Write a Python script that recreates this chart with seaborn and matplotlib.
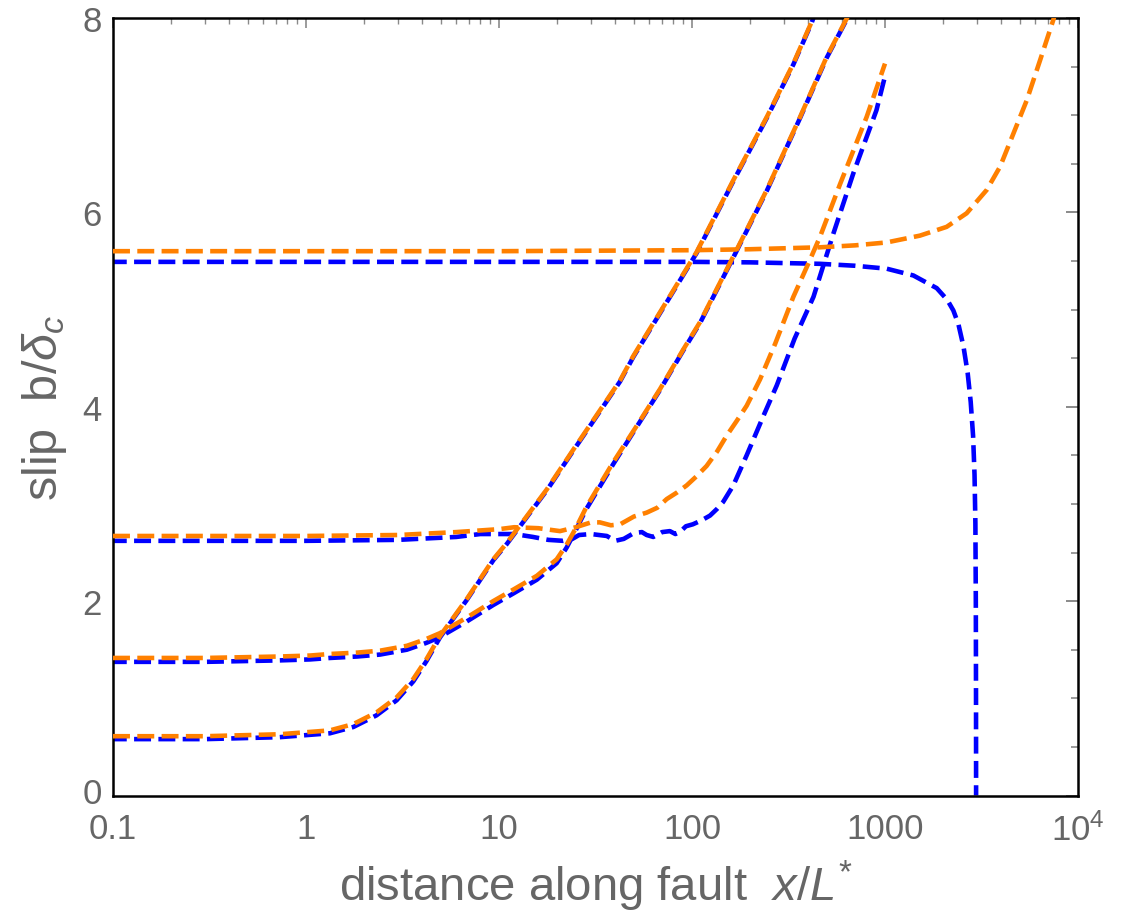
import numpy as np
import pandas as pd
import matplotlib
matplotlib.use("Agg")
import matplotlib.pyplot as plt
import matplotlib.transforms as mtransforms
import seaborn as sns
from matplotlib.ticker import FixedLocator, FixedFormatter, MultipleLocator, NullFormatter

# ---------------- data ----------------
# curve A (starts near 0.6)
a_x = [0.1, 0.3, 0.73, 1.33, 1.76, 2.32, 2.95, 3.6, 4.2, 4.94, 5.8, 6.8, 8.0, 9.34, 11.0,
       12.85, 17.7, 24.3, 32.0, 42.4, 49.6, 76.9, 105.6, 163.7, 244.0, 335.0, 417.0, 450.0]
a_orange = [0.61, 0.61, 0.63, 0.67, 0.735, 0.855, 1.01, 1.2, 1.40, 1.64, 1.83, 2.02, 2.23, 2.43, 2.60,
            2.78, 3.15, 3.56, 3.91, 4.27, 4.52, 5.14, 5.59, 6.33, 6.98, 7.53, 7.96, 8.15]
a_blue = [0.58, 0.58, 0.60, 0.64, 0.705, 0.825, 0.98, 1.175, 1.38, 1.625, 1.82, 2.01, 2.22, 2.42, 2.59,
          2.77, 3.14, 3.55, 3.90, 4.26, 4.51, 5.13, 5.58, 6.32, 6.97, 7.52, 7.95, 8.14]

# curve B (starts near 1.4)
b_x = [0.1, 0.3, 0.73, 1.05, 1.33, 1.84, 2.42, 3.33, 4.2, 4.94, 6.8, 9.34, 11.9, 15.7, 19.9,
       22.4, 25.0, 28.4, 39.1, 51.6, 68.2, 90.2, 110.0, 170.0, 244.0, 363.0, 499.0, 632.0, 680.0]
b_orange = [1.415, 1.415, 1.43, 1.44, 1.456, 1.47, 1.49, 1.54, 1.61, 1.67, 1.83, 2.0, 2.12, 2.26, 2.43,
            2.58, 2.75, 2.97, 3.43, 3.80, 4.18, 4.59, 4.87, 5.61, 6.23, 6.98, 7.6, 7.99, 8.12]
b_blue = [1.375, 1.375, 1.39, 1.40, 1.415, 1.43, 1.45, 1.50, 1.57, 1.63, 1.79, 1.96, 2.08, 2.22, 2.39,
          2.55, 2.73, 2.95, 3.41, 3.79, 4.17, 4.58, 4.86, 5.60, 6.22, 6.97, 7.59, 7.98, 8.11]

# curve C (starts near 2.65, ends at x = 1000)
c_x_orange = [0.1, 0.5, 1, 3, 6, 10, 12, 16, 20.7, 25, 30, 33.3, 38, 42.4, 50, 58.2, 66, 74, 84,
              93.8, 105, 119, 135, 151, 170, 192, 225, 270, 335, 400, 461, 585, 700, 803, 1000]
c_orange = [2.67, 2.67, 2.67, 2.68, 2.71, 2.74, 2.76, 2.75, 2.72, 2.76, 2.81, 2.81, 2.78, 2.79, 2.87,
            2.91, 2.96, 3.05, 3.12, 3.19, 3.28, 3.39, 3.54, 3.70, 3.85, 4.01, 4.28, 4.65, 5.13, 5.47,
            5.75, 6.29, 6.68, 6.98, 7.53]
c_x_blue = [0.1, 0.5, 1, 3, 6, 8, 10, 12, 15, 18, 21.5, 24, 26, 30, 36.2, 40, 44.3, 50, 55, 58.2,
            63, 70, 76.8, 82, 86.6, 93, 101, 112, 124, 135, 145, 163.7, 192, 235, 275, 340, 426,
            540, 685, 903, 1000]
c_blue = [2.62, 2.62, 2.62, 2.63, 2.66, 2.69, 2.69, 2.69, 2.66, 2.63, 2.62, 2.64, 2.68, 2.69, 2.67,
          2.62, 2.64, 2.70, 2.71, 2.68, 2.66, 2.71, 2.72, 2.69, 2.71, 2.77, 2.79, 2.83, 2.88, 2.95,
          3.02, 3.19, 3.50, 3.91, 4.22, 4.70, 5.13, 5.78, 6.40, 7.05, 7.40]

# curve D (flat near 5.5)
d_x_orange = [0.1, 1, 10, 100, 200, 461, 700, 1020, 1517, 2085, 2648, 3365, 3948, 4627, 5420,
              6350, 7450, 8000]
d_orange = [5.6, 5.6, 5.6, 5.61, 5.62, 5.64, 5.66, 5.69, 5.76, 5.85, 5.99, 6.23, 6.47, 6.81, 7.15,
            7.56, 7.98, 8.2]
d_x_blue = [0.1, 1, 10, 100, 200, 461, 700, 1020, 1403, 1853, 2100, 2260, 2400, 2550, 2680, 2780,
            2860, 2910, 2940, 2955, 2962, 2965]
d_blue = [5.49, 5.49, 5.49, 5.49, 5.485, 5.47, 5.45, 5.42, 5.35, 5.22, 5.10, 4.99, 4.85, 4.62, 4.35,
          4.05, 3.70, 3.30, 2.80, 2.0, 1.0, 0.0]

x_ticks = [0.1, 1, 10, 100, 1000, 10000]
x_tick_labels = ["0.1", "1", "10", "100", "1000", r"$10^4$"]
y_ticks = [0, 2, 4, 6, 8]
y_tick_labels = ["0", "2", "4", "6", "8"]

# ---------------- build long table ----------------
frames = []
for name, xs, ys, model in [
    ("A", a_x, a_blue, "blue"), ("A", a_x, a_orange, "orange"),
    ("B", b_x, b_blue, "blue"), ("B", b_x, b_orange, "orange"),
    ("C", c_x_blue, c_blue, "blue"), ("C", c_x_orange, c_orange, "orange"),
    ("D", d_x_blue, d_blue, "blue"), ("D", d_x_orange, d_orange, "orange"),
]:
    frames.append(pd.DataFrame({"x": xs, "y": ys, "curve": name, "model": model}))
df = pd.concat(frames, ignore_index=True)

# ---------------- style ----------------
sns.set_theme(style="white")
plt.rcParams["font.family"] = ["Liberation Sans", "DejaVu Sans"]
plt.rcParams["mathtext.fontset"] = "custom"
plt.rcParams["mathtext.rm"] = "Liberation Sans"
plt.rcParams["mathtext.it"] = "Liberation Sans:italic"
plt.rcParams["mathtext.bf"] = "Liberation Sans:bold"

W, H = 1121, 912
fig = plt.figure(figsize=(W / 100, H / 100), dpi=100)
ax = fig.add_axes([113 / W, (H - 796.5) / H, 965 / W, 777.6 / H])
ax.set_xscale("log")

colors = {"blue": "#0000ff", "orange": "#ff8000"}
styles = {"blue": (6, (3.7, 1.6)), "orange": (0, (3.7, 1.6))}

for model in ["blue", "orange"]:
    for name in ["A", "B", "C", "D"]:
        sub = df[(df.curve == name) & (df.model == model)]
        sns.lineplot(data=sub, x="x", y="y", sort=False, estimator=None, ax=ax,
                     color=colors[model], linewidth=3.3, linestyle=styles[model],
                     legend=False, zorder=3 if model == "orange" else 2)

ax.set_xlim(0.1, 10000)
ax.set_ylim(0, 8)

ax.xaxis.set_major_locator(FixedLocator(x_ticks))
ax.xaxis.set_major_formatter(FixedFormatter(x_tick_labels))
minor_x = [m * 10.0 ** e for e in range(-1, 4) for m in range(2, 10)]
ax.xaxis.set_minor_locator(FixedLocator(minor_x))
ax.xaxis.set_minor_formatter(NullFormatter())
ax.yaxis.set_major_locator(FixedLocator(y_ticks))
ax.yaxis.set_major_formatter(FixedFormatter(y_tick_labels))
ax.yaxis.set_minor_locator(MultipleLocator(0.5))

tick_gray = "#8a8a8a"
label_gray = "#666666"
ax.tick_params(axis="both", which="both", direction="in", top=True, right=True,
               color=tick_gray, labelcolor=label_gray, labelsize=25)
ax.tick_params(axis="y", which="major", length=9, width=1.4, pad=8)
ax.tick_params(axis="y", which="minor", length=5, width=1.2)
ax.tick_params(axis="x", which="major", length=7, width=1.2, pad=12)
ax.tick_params(axis="x", which="minor", length=4, width=1.0)

# nudge the y "0" label up a little so it does not collide with the x "0.1" label
fig.canvas.draw()
ylab0 = ax.yaxis.get_majorticklabels()[0]
ylab0.set_transform(ylab0.get_transform() +
                    mtransforms.ScaledTranslation(0, 4 / 72, fig.dpi_scale_trans))

for s in ax.spines.values():
    s.set_color("black")
    s.set_linewidth(1.8)
    s.set_visible(True)

ax.set_xlabel("distance along fault  " + r"$x/L^{*}$", fontsize=34, color=label_gray, labelpad=8)
ax.set_ylabel("slip  b/" + r"$\delta_{c}$", fontsize=35, color=label_gray, labelpad=10)

fig.savefig("out.png", dpi=100)
